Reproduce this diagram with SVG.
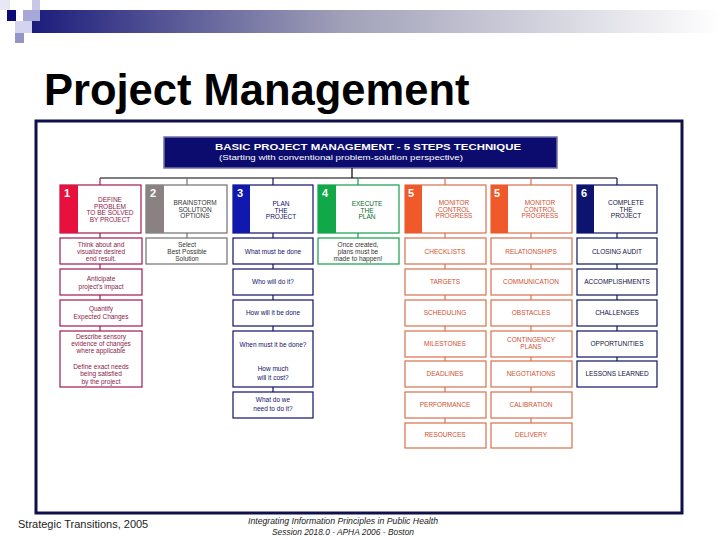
<svg xmlns="http://www.w3.org/2000/svg" width="720" height="540" viewBox="0 0 720 540">
<defs>
<linearGradient id="bar" x1="0" y1="0" x2="1" y2="0">
<stop offset="0" stop-color="#1c1c7c"/>
<stop offset="0.45" stop-color="#a0a0b8"/>
<stop offset="1" stop-color="#ffffff"/>
</linearGradient>
<style>
text{font-family:"Liberation Sans",Arial,sans-serif;}
.t{font-size:6.5px;text-anchor:middle;}
.num{font-size:11px;font-weight:bold;fill:#fff;}
.box{fill:#fff;stroke-width:1.2;}
.c1{stroke:#a01a52;} .f1{fill:#8c1a4a;}
.c2{stroke:#707070;} .f2{fill:#333;}
.c3{stroke:#10106a;} .f3{fill:#10106a;}
.c4{stroke:#10a048;} .f4{fill:#0a6a2a;}
.c5{stroke:#d8704c;} .f5{fill:#d0502e;}
.c6{stroke:#0c1460;} .f6{fill:#111140;}
.con line{stroke-width:1.2;}
</style>
</defs>
<rect width="720" height="540" fill="#fff"/>
<g id="decor">
<rect x="0" y="0" width="10" height="10" fill="#e8e8f4"/>
<rect x="32" y="0" width="8" height="10" fill="#c8c8e6"/>
<rect x="32" y="10" width="688" height="23" fill="url(#bar)"/>
<rect x="7" y="10" width="9" height="11" fill="#0a0a78"/>
<rect x="23" y="10" width="17" height="11" fill="#a8a8d8"/>
<rect x="15" y="21" width="17" height="12" fill="#d4d4ee"/>
<rect x="15" y="33" width="9" height="10" fill="#9494c8"/>
</g>
<text x="44" y="105" font-size="43.5" font-weight="bold" fill="#000">Project Management</text>
<rect id="frame" x="36" y="121" width="646" height="392" fill="none" stroke="#10104a" stroke-width="3"/>
<g id="header">
<rect x="164" y="137" width="393" height="31" fill="#0c0c6e" stroke="#7070a8" stroke-width="1.5"/>
<text x="368" y="150" font-size="9.5" font-weight="bold" fill="#fff" text-anchor="middle" textLength="306" lengthAdjust="spacingAndGlyphs">BASIC PROJECT MANAGEMENT - 5 STEPS TECHNIQUE</text>
<text x="341" y="160" font-size="8" fill="#fff" text-anchor="middle" textLength="244" lengthAdjust="spacingAndGlyphs">(Starting with conventional problem-solution perspective)</text>
</g>
<g id="connectors" class="con">
<line x1="352" y1="168" x2="352" y2="178" stroke="#000"/>
<line x1="100" y1="178" x2="617" y2="178" stroke="#000"/>
<line x1="100" y1="178" x2="100" y2="185" class="c1"/>
<line x1="187" y1="178" x2="187" y2="185" class="c2"/>
<line x1="273" y1="178" x2="273" y2="185" class="c3"/>
<line x1="358" y1="178" x2="358" y2="185" class="c4"/>
<line x1="445" y1="178" x2="445" y2="185" class="c5"/>
<line x1="531" y1="178" x2="531" y2="185" class="c5"/>
<line x1="617" y1="178" x2="617" y2="185" class="c6"/>
<line x1="100" y1="233" x2="100" y2="238" class="c1"/>
<line x1="100" y1="264" x2="100" y2="269" class="c1"/>
<line x1="100" y1="295" x2="100" y2="300" class="c1"/>
<line x1="100" y1="326" x2="100" y2="331" class="c1"/>
<line x1="100" y1="356" x2="100" y2="362" class="c1"/>
<line x1="187" y1="233" x2="187" y2="238" class="c2"/>
<line x1="273" y1="233" x2="273" y2="238" class="c3"/>
<line x1="273" y1="264" x2="273" y2="269" class="c3"/>
<line x1="273" y1="295" x2="273" y2="300" class="c3"/>
<line x1="273" y1="326" x2="273" y2="331" class="c3"/>
<line x1="273" y1="356" x2="273" y2="362" class="c3"/>
<line x1="273" y1="387" x2="273" y2="392" class="c3"/>
<line x1="358" y1="233" x2="358" y2="238" class="c4"/>
<line x1="445" y1="233" x2="445" y2="238" class="c5"/>
<line x1="445" y1="264" x2="445" y2="269" class="c5"/>
<line x1="445" y1="295" x2="445" y2="300" class="c5"/>
<line x1="445" y1="326" x2="445" y2="331" class="c5"/>
<line x1="445" y1="357" x2="445" y2="361" class="c5"/>
<line x1="445" y1="387" x2="445" y2="392" class="c5"/>
<line x1="445" y1="418" x2="445" y2="423" class="c5"/>
<line x1="531" y1="233" x2="531" y2="238" class="c5"/>
<line x1="531" y1="264" x2="531" y2="269" class="c5"/>
<line x1="531" y1="295" x2="531" y2="300" class="c5"/>
<line x1="531" y1="326" x2="531" y2="331" class="c5"/>
<line x1="531" y1="357" x2="531" y2="361" class="c5"/>
<line x1="531" y1="387" x2="531" y2="392" class="c5"/>
<line x1="531" y1="418" x2="531" y2="423" class="c5"/>
<line x1="617" y1="233" x2="617" y2="238" class="c6"/>
<line x1="617" y1="264" x2="617" y2="269" class="c6"/>
<line x1="617" y1="295" x2="617" y2="300" class="c6"/>
<line x1="617" y1="326" x2="617" y2="331" class="c6"/>
<line x1="617" y1="357" x2="617" y2="361" class="c6"/>
</g>
<g id="step1">
<rect x="60" y="185" width="81" height="48" class="box c1"/>
<rect x="60" y="185" width="18" height="48" fill="#e8103c"/>
<text x="64" y="197" class="num">1</text>
<text class="t f1"><tspan x="110" y="202">DEFINE</tspan><tspan x="110" y="208.5">PROBLEM</tspan><tspan x="110" y="215">TO BE SOLVED</tspan><tspan x="110" y="221.5">BY PROJECT</tspan></text>
</g>
<g id="step2">
<rect x="146" y="185" width="81" height="48" class="box c2"/>
<rect x="146" y="185" width="18" height="48" fill="#8a8282"/>
<text x="150" y="197" class="num">2</text>
<text class="t f2"><tspan x="195" y="205">BRAINSTORM</tspan><tspan x="195" y="211.5">SOLUTION</tspan><tspan x="195" y="218">OPTIONS</tspan></text>
</g>
<g id="step3">
<rect x="233" y="185" width="80" height="48" class="box c3"/>
<rect x="233" y="185" width="17" height="48" fill="#1018b0"/>
<text x="237" y="197" class="num">3</text>
<text class="t f3"><tspan x="281" y="206">PLAN</tspan><tspan x="281" y="212.5">THE</tspan><tspan x="281" y="219">PROJECT</tspan></text>
</g>
<g id="step4">
<rect x="318" y="185" width="81" height="48" class="box c4"/>
<rect x="318" y="185" width="18" height="48" fill="#10a848"/>
<text x="322" y="197" class="num">4</text>
<text class="t f4"><tspan x="367" y="206">EXECUTE</tspan><tspan x="367" y="212.5">THE</tspan><tspan x="367" y="219">PLAN</tspan></text>
</g>
<g id="step5a">
<rect x="405" y="185" width="81" height="48" class="box c5"/>
<rect x="405" y="185" width="17" height="48" fill="#f05a2a"/>
<text x="408" y="197" class="num">5</text>
<text class="t f5"><tspan x="454" y="205">MONITOR</tspan><tspan x="454" y="211.5">CONTROL</tspan><tspan x="454" y="218">PROGRESS</tspan></text>
</g>
<g id="step5b">
<rect x="491" y="185" width="81" height="48" class="box c5"/>
<rect x="491" y="185" width="17" height="48" fill="#f05a2a"/>
<text x="494" y="197" class="num">5</text>
<text class="t f5"><tspan x="540" y="205">MONITOR</tspan><tspan x="540" y="211.5">CONTROL</tspan><tspan x="540" y="218">PROGRESS</tspan></text>
</g>
<g id="step6">
<rect x="577" y="185" width="80" height="48" class="box c6"/>
<rect x="577" y="185" width="17" height="48" fill="#0c1470"/>
<text x="581" y="197" class="num">6</text>
<text class="t f6"><tspan x="626" y="205">COMPLETE</tspan><tspan x="626" y="211.5">THE</tspan><tspan x="626" y="218">PROJECT</tspan></text>
</g>
<g id="col1">
<rect x="60" y="238" width="82" height="26" class="box c1"/>
<text class="t f1"><tspan x="101" y="247">Think about and</tspan><tspan x="101" y="254">visualize desired</tspan><tspan x="101" y="261">end result.</tspan></text>
<rect x="60" y="269" width="82" height="26" class="box c1"/>
<text class="t f1"><tspan x="101" y="281">Anticipate</tspan><tspan x="101" y="288.5">project's impact</tspan></text>
<rect x="60" y="300" width="82" height="26" class="box c1"/>
<text class="t f1"><tspan x="101" y="311">Quantify</tspan><tspan x="101" y="319">Expected Changes</tspan></text>
<rect x="60" y="331" width="82" height="56" class="box c1"/>
<text class="t f1"><tspan x="101" y="339">Describe sensory</tspan><tspan x="101" y="346">evidence of changes</tspan><tspan x="101" y="353">where applicable</tspan></text>
<text class="t f1"><tspan x="101" y="369">Define exact needs</tspan><tspan x="101" y="376">being satisfied</tspan><tspan x="101" y="383.5">by the project</tspan></text>
</g>
<g id="col2">
<rect x="146" y="238" width="81" height="26" class="box c2"/>
<text class="t f2"><tspan x="187" y="247">Select</tspan><tspan x="187" y="254">Best Possible</tspan><tspan x="187" y="261">Solution</tspan></text>
</g>
<g id="col3">
<rect x="233" y="238" width="80" height="26" class="box c3"/>
<text x="273" y="254" class="t f3">What must be done</text>
<rect x="233" y="269" width="80" height="26" class="box c3"/>
<text x="273" y="284" class="t f3">Who will do it?</text>
<rect x="233" y="300" width="80" height="26" class="box c3"/>
<text x="273" y="315" class="t f3">How will it be done</text>
<rect x="233" y="331" width="80" height="56" class="box c3"/>
<text x="273" y="347" class="t f3">When must it be done?</text>
<text class="t f3"><tspan x="273" y="371">How much</tspan><tspan x="273" y="380">will it cost?</tspan></text>
<rect x="233" y="392" width="80" height="26" class="box c3"/>
<text class="t f3"><tspan x="273" y="402">What do we</tspan><tspan x="273" y="411">need to do it?</tspan></text>
</g>
<g id="col4">
<rect x="318" y="238" width="81" height="26" class="box c4"/>
<text class="t f2"><tspan x="358" y="247">Once created,</tspan><tspan x="358" y="254">plans must be</tspan><tspan x="358" y="261">made to happen!</tspan></text>
</g>
<g id="col5a">
<rect x="405" y="238" width="81" height="26" class="box c5"/>
<text x="445" y="254" class="t f5">CHECKLISTS</text>
<rect x="405" y="269" width="81" height="26" class="box c5"/>
<text x="445" y="284" class="t f5">TARGETS</text>
<rect x="405" y="300" width="81" height="26" class="box c5"/>
<text x="445" y="315" class="t f5">SCHEDULING</text>
<rect x="405" y="331" width="81" height="26" class="box c5"/>
<text x="445" y="346" class="t f5">MILESTONES</text>
<rect x="405" y="361" width="81" height="26" class="box c5"/>
<text x="445" y="376" class="t f5">DEADLINES</text>
<rect x="405" y="392" width="81" height="26" class="box c5"/>
<text x="445" y="407" class="t f5">PERFORMANCE</text>
<rect x="405" y="423" width="81" height="25" class="box c5"/>
<text x="445" y="437" class="t f5">RESOURCES</text>
</g>
<g id="col5b">
<rect x="491" y="238" width="81" height="26" class="box c5"/>
<text x="531" y="254" class="t f5">RELATIONSHIPS</text>
<rect x="491" y="269" width="81" height="26" class="box c5"/>
<text x="531" y="284" class="t f5">COMMUNICATION</text>
<rect x="491" y="300" width="81" height="26" class="box c5"/>
<text x="531" y="315" class="t f5">OBSTACLES</text>
<rect x="491" y="331" width="81" height="26" class="box c5"/>
<text class="t f5"><tspan x="531" y="342">CONTINGENCY</tspan><tspan x="531" y="349">PLANS</tspan></text>
<rect x="491" y="361" width="81" height="26" class="box c5"/>
<text x="531" y="376" class="t f5">NEGOTIATIONS</text>
<rect x="491" y="392" width="81" height="26" class="box c5"/>
<text x="531" y="407" class="t f5">CALIBRATION</text>
<rect x="491" y="423" width="81" height="25" class="box c5"/>
<text x="531" y="437" class="t f5">DELIVERY</text>
</g>
<g id="col6">
<rect x="577" y="238" width="80" height="26" class="box c6"/>
<text x="617" y="254" class="t f6">CLOSING AUDIT</text>
<rect x="577" y="269" width="80" height="26" class="box c6"/>
<text x="617" y="284" class="t f6">ACCOMPLISHMENTS</text>
<rect x="577" y="300" width="80" height="26" class="box c6"/>
<text x="617" y="315" class="t f6">CHALLENGES</text>
<rect x="577" y="331" width="80" height="26" class="box c6"/>
<text x="617" y="346" class="t f6">OPPORTUNITIES</text>
<rect x="577" y="361" width="80" height="26" class="box c6"/>
<text x="617" y="376" class="t f6">LESSONS LEARNED</text>
</g>
<g id="footer">
<text x="18" y="528" font-size="11" fill="#222">Strategic Transitions, 2005</text>
<text x="343" y="524" font-size="8.5" font-style="italic" fill="#222" text-anchor="middle" textLength="190" lengthAdjust="spacingAndGlyphs">Integrating Information Principles in Public Health</text>
<text x="343" y="535" font-size="8.5" font-style="italic" fill="#222" text-anchor="middle" textLength="142" lengthAdjust="spacingAndGlyphs">Session 2018.0 - APHA 2006 - Boston</text>
</g>
</svg>
